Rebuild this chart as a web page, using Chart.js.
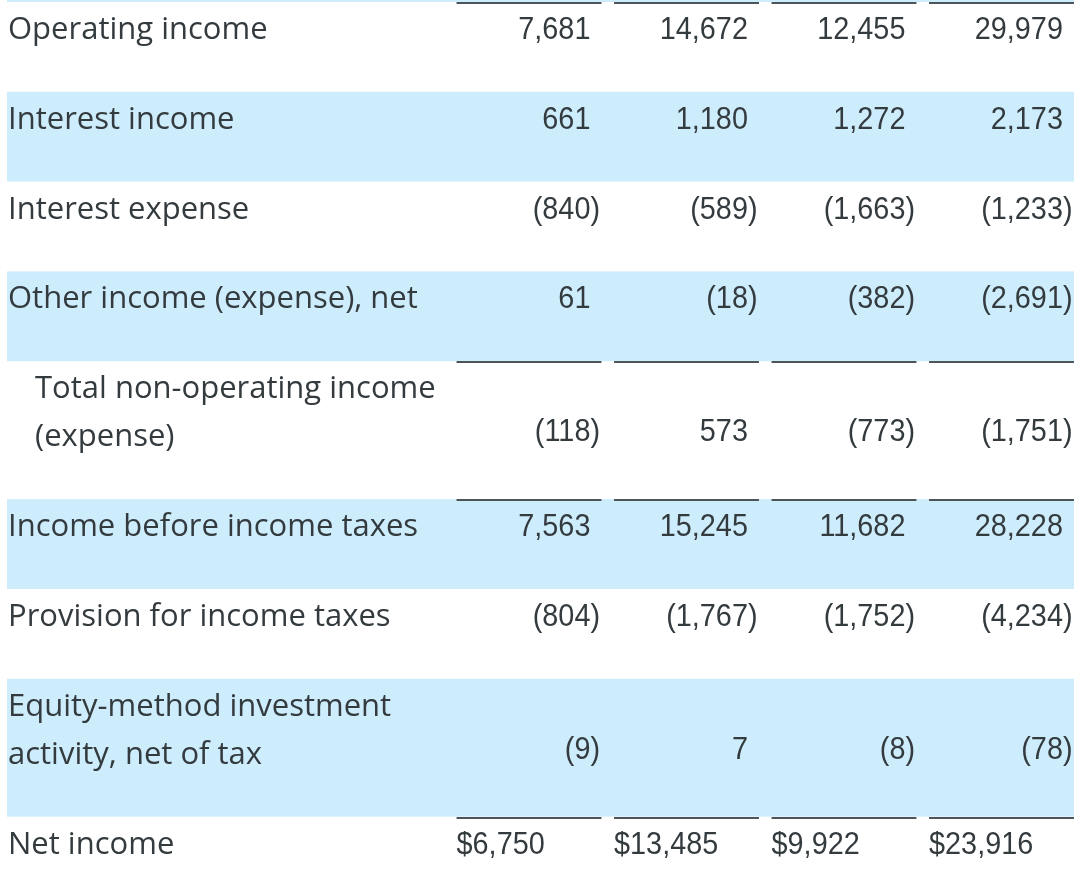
<!DOCTYPE html>
<html>
<head>
<meta charset="utf-8">
<script src="https://cdn.jsdelivr.net/npm/chart.js@4"></script>
<style>
  html, body { margin: 0; padding: 0; background: #fff; }
  #wrap { width: 1080px; height: 874px; position: relative; }
</style>
</head>
<body>
<div id="wrap"><canvas id="c"></canvas></div>
<script>
// rows of the statement (multi-line labels split into lines)
const rowLabels = [
  ['Operating income'],
  ['Interest income'],
  ['Interest expense'],
  ['Other income (expense), net'],
  ['Total non-operating income', '(expense)'],
  ['Income before income taxes'],
  ['Provision for income taxes'],
  ['Equity-method investment', 'activity, net of tax'],
  ['Net income']
];
// values per column, in row order
const period1 = [7681, 661, -840, 61, -118, 7563, -804, -9, 6750];
const period2 = [14672, 1180, -589, -18, 573, 15245, -1767, 7, 13485];
const period3 = [12455, 1272, -1663, -382, -773, 11682, -1752, -8, 9922];
const period4 = [29979, 2173, -1233, -2691, -1751, 28228, -4234, -78, 23916];
const periods = [period1, period2, period3, period4];

const shadedRows = [1, 3, 5, 7];
const indentRows = [4];
const ruleRows = [0, 4, 5, 8];   // rule above the value cells
const dollarRow = 8;

// layout (row units / column units)
const extraLine = 0.536;
const firstBase = 0.413;
const valueShift = 0.48;
const cellHalf = 0.46;
const digitEdge = 0.39;
const band = '#cdecfc';
const ink = '#343b3f';
const labelFont = '31px "Open Sans"';
const valueFont = '31px "Liberation Sans"';
const squeeze = 0.93;

// cumulative row tops
const rowTop = [];
let acc = 0;
rowLabels.forEach(function(lines) {
  rowTop.push(acc);
  acc += 1 + extraLine * (lines.length - 1);
});
rowTop.push(acc);

function fmt(v, dollar) {
  const s = Math.abs(v).toLocaleString('en-US');
  return (dollar ? '$' : '') + s;
}

const datasets = periods.map(function(vals, c) {
  return {
    label: 'col' + (c + 1),
    data: vals.map(function(v, r) {
      return { x: c + 1, y: rowTop[r] + firstBase + valueShift * (rowLabels[r].length - 1), v: v, r: r };
    }),
    pointRadius: 0
  };
});

function narrowText(ctx, text, x, y, align) {
  ctx.save();
  ctx.translate(x, y);
  ctx.scale(squeeze, 1);
  ctx.textAlign = align;
  ctx.fillText(text, 0, 0);
  ctx.restore();
}

const tablePlugin = {
  id: 'table',
  beforeDatasetsDraw: function(chart) {
    const ctx = chart.ctx, xs = chart.scales.x, ys = chart.scales.y, area = chart.chartArea;
    const left = area.left + 7, right = xs.getPixelForValue(4 + cellHalf);
    ctx.save();
    ctx.fillStyle = band;
    // tail of the shaded row above the crop
    ctx.fillRect(left, ys.getPixelForValue(ys.min), right - left, ys.getPixelForValue(0) - ys.getPixelForValue(ys.min));
    shadedRows.forEach(function(r) {
      const y0 = ys.getPixelForValue(rowTop[r]), y1 = ys.getPixelForValue(rowTop[r + 1]);
      ctx.fillRect(left, y0, right - left, y1 - y0);
    });
    ctx.strokeStyle = '#4d5559';
    ctx.lineWidth = 2;
    ruleRows.forEach(function(r) {
      const y = Math.round(ys.getPixelForValue(rowTop[r])) + 1;
      for (let c = 1; c <= 4; c++) {
        ctx.beginPath();
        ctx.moveTo(xs.getPixelForValue(c - cellHalf), y);
        ctx.lineTo(xs.getPixelForValue(c + cellHalf), y);
        ctx.stroke();
      }
    });
    ctx.restore();
  },
  afterDatasetsDraw: function(chart) {
    const ctx = chart.ctx, xs = chart.scales.x, ys = chart.scales.y, area = chart.chartArea;
    ctx.save();
    ctx.fillStyle = ink;
    ctx.textBaseline = 'alphabetic';
    ctx.font = labelFont;
    ctx.textAlign = 'left';
    rowLabels.forEach(function(lines, r) {
      const x = area.left + 8 + (indentRows.indexOf(r) >= 0 ? 27 : 0);
      lines.forEach(function(t, i) {
        ctx.fillText(t, x, ys.getPixelForValue(rowTop[r] + firstBase + extraLine * i));
      });
    });
    ctx.font = valueFont;
    chart.data.datasets.forEach(function(ds, di) {
      const meta = chart.getDatasetMeta(di);
      meta.data.forEach(function(pt, i) {
        const d = ds.data[i];
        const y = pt.y;
        if (d.r === dollarRow) {
          narrowText(ctx, fmt(d.v, true), xs.getPixelForValue(d.x - cellHalf), y, 'left');
          return;
        }
        const edge = xs.getPixelForValue(d.x + digitEdge);
        narrowText(ctx, (d.v < 0 ? '(' : '') + fmt(d.v, false), edge, y, 'right');
        if (d.v < 0) narrowText(ctx, ')', edge, y, 'left');
      });
    });
    ctx.restore();
  }
};

const colPx = 157.5;
const xMin = 1 - 529 / colPx;
const rowPx = 89.8;
const yMin = -2 / rowPx;

new Chart(document.getElementById('c'), {
  type: 'scatter',
  data: { datasets: datasets },
  options: {
    responsive: true,
    maintainAspectRatio: false,
    animation: false,
    layout: { padding: 0 },
    plugins: { legend: { display: false }, tooltip: { enabled: false } },
    scales: {
      x: { type: 'linear', display: false, min: xMin, max: xMin + 1080 / colPx },
      y: { type: 'linear', display: false, reverse: true, min: yMin, max: yMin + 874 / rowPx }
    }
  },
  plugins: [tablePlugin]
});
</script>
</body>
</html>
